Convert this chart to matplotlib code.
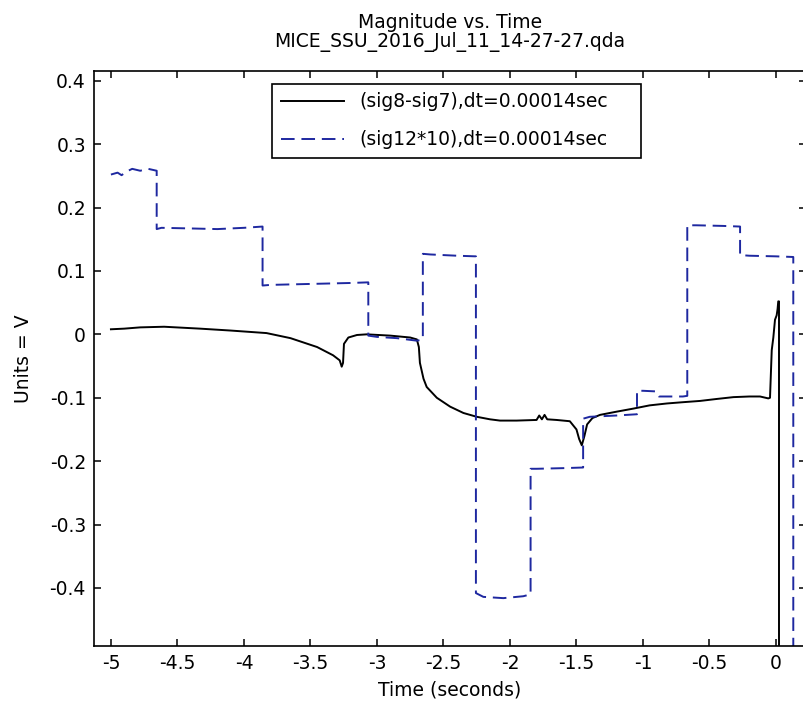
import numpy as np
import matplotlib
matplotlib.use('Agg')
import matplotlib.pyplot as plt

# (sig8-sig7) -- black solid trace
black_t = [-5.0, -4.9, -4.78, -4.6, -4.33, -4.1, -3.83, -3.65, -3.45, -3.33,
           -3.28, -3.265, -3.255, -3.248, -3.215, -3.15, -3.077, -2.9, -2.75,
           -2.70, -2.685, -2.677, -2.65, -2.626, -2.55, -2.45, -2.35, -2.25,
           -2.15, -2.075, -1.95, -1.8, -1.78, -1.76, -1.74, -1.72, -1.65, -1.55,
           -1.5, -1.48, -1.46, -1.44, -1.42, -1.38, -1.323, -1.2, -1.07, -0.95,
           -0.82, -0.7, -0.571, -0.45, -0.32, -0.2, -0.12, -0.058, -0.045,
           -0.032, -0.02, -0.0075, 0.005, 0.012, 0.017, 0.0226, 0.0226]
black_v = [0.008, 0.009, 0.011, 0.012, 0.009, 0.006, 0.002, -0.006, -0.020, -0.033,
           -0.041, -0.051, -0.045, -0.015, -0.005, -0.001, 0.0, -0.002, -0.005,
           -0.008, -0.020, -0.045, -0.070, -0.083, -0.100, -0.114, -0.124, -0.130,
           -0.134, -0.136, -0.136, -0.135, -0.128, -0.134, -0.127, -0.134, -0.135, -0.137,
           -0.150, -0.165, -0.175, -0.160, -0.142, -0.132, -0.127, -0.122, -0.117, -0.112,
           -0.109, -0.107, -0.105, -0.102, -0.099, -0.098, -0.098, -0.101, -0.100,
           -0.025, -0.005, 0.023, 0.030, 0.040, 0.052, 0.052, -0.8]

# (sig12*10) -- blue dashed step trace
blue_t = [-5.0, -4.95, -4.92, -4.88, -4.84, -4.78, -4.72, -4.656,
          -4.656, -4.62, -4.4, -4.2, -4.0, -3.86,
          -3.86, -3.8, -3.6, -3.4, -3.2, -3.065,
          -3.065, -3.0, -2.85, -2.7, -2.655,
          -2.655, -2.6, -2.4, -2.256,
          -2.256, -2.2, -2.05, -1.9, -1.845,
          -1.845, -1.8, -1.6, -1.45,
          -1.45, -1.4, -1.2, -1.045,
          -1.045, -1.0, -0.9, -0.88, -0.7, -0.667,
          -0.667, -0.6, -0.4, -0.27,
          -0.27, -0.2, 0.0, 0.13,
          0.13]
blue_v = [0.252, 0.255, 0.251, 0.257, 0.261, 0.258, 0.261, 0.258,
          0.166, 0.168, 0.167, 0.166, 0.168, 0.170,
          0.077, 0.078, 0.079, 0.080, 0.081, 0.082,
          -0.002, -0.004, -0.006, -0.010, -0.008,
          0.127, 0.126, 0.124, 0.123,
          -0.408, -0.414, -0.416, -0.413, -0.410,
          -0.212, -0.212, -0.211, -0.210,
          -0.133, -0.130, -0.128, -0.126,
          -0.089, -0.089, -0.090, -0.098, -0.098, -0.097,
          0.172, 0.172, 0.171, 0.170,
          0.125, 0.124, 0.123, 0.122,
          -0.8]

xticks = [-5, -4.5, -4, -3.5, -3, -2.5, -2, -1.5, -1, -0.5, 0]
xticklabels = ['-5', '-4.5', '-4', '-3.5', '-3', '-2.5', '-2', '-1.5', '-1', '-0.5', '0']
yticks = [-0.4, -0.3, -0.2, -0.1, 0, 0.1, 0.2, 0.3, 0.4]
yticklabels = ['-0.4', '-0.3', '-0.2', '-0.1', '0', '0.1', '0.2', '0.3', '0.4']

plt.rcParams['font.family'] = 'DejaVu Sans'
fs = 13.5

W, H = 804, 707
fig = plt.figure(figsize=(W/100, H/100), dpi=100)
# axes box in pixels: left 94, right 806 (just past the image edge), top 71, bottom 646
ax = fig.add_axes((94.3/W, 1-645.7/H, (806-94.3)/W, (645.7-71)/H))

ax.plot(black_t, black_v, color='black', lw=1.4, label='(sig8-sig7),dt=0.00014sec')
ax.plot(blue_t, blue_v, color='#1e28a0', lw=1.4, dashes=(7, 3.5),
        label='(sig12*10),dt=0.00014sec')

ax.set_xlim(-5.125, 0.2256)
ax.set_ylim(-0.491, 0.4153)
ax.set_xticks(xticks)
ax.set_xticklabels(xticklabels)
ax.set_yticks(yticks)
ax.set_yticklabels(yticklabels)
ax.tick_params(direction='in', length=5, width=1.1, top=True, right=True,
               labelsize=fs, pad=6)
for s in ax.spines.values():
    s.set_linewidth(1.2)

ax.set_xlabel('Time (seconds)', fontsize=fs)
ax.xaxis.set_label_coords((450-94.3)/(806-94.3), -(690-645.7)/(645.7-71), transform=ax.transAxes)
ax.xaxis.label.set_va('center')
ax.set_ylabel('Units = V', fontsize=fs)
ax.yaxis.set_label_coords(-(94.3-24)/(806-94.3), 0.5, transform=ax.transAxes)
ax.yaxis.label.set_va('center')

# two-line title
fig.text(450/W, 1-28/H, 'Magnitude vs. Time', ha='center', va='baseline', fontsize=fs)
fig.text(450/W, 1-47/H, 'MICE_SSU_2016_Jul_11_14-27-27.qda', ha='center', va='baseline', fontsize=fs)

# legend box spans x 272..641, y 84..157 px
leg = ax.legend(loc='upper left',
                bbox_to_anchor=(272.3/W, 1-157.3/H, (641-272.3)/W, (157.3-84)/H),
                bbox_transform=fig.transFigure, mode='expand', borderaxespad=0,
                fontsize=fs, fancybox=False, framealpha=1, edgecolor='black',
                handlelength=3.4, handletextpad=0.8, labelspacing=1.0, borderpad=0.45)
leg.get_frame().set_linewidth(1.2)

fig.savefig('out.png', dpi=100)
